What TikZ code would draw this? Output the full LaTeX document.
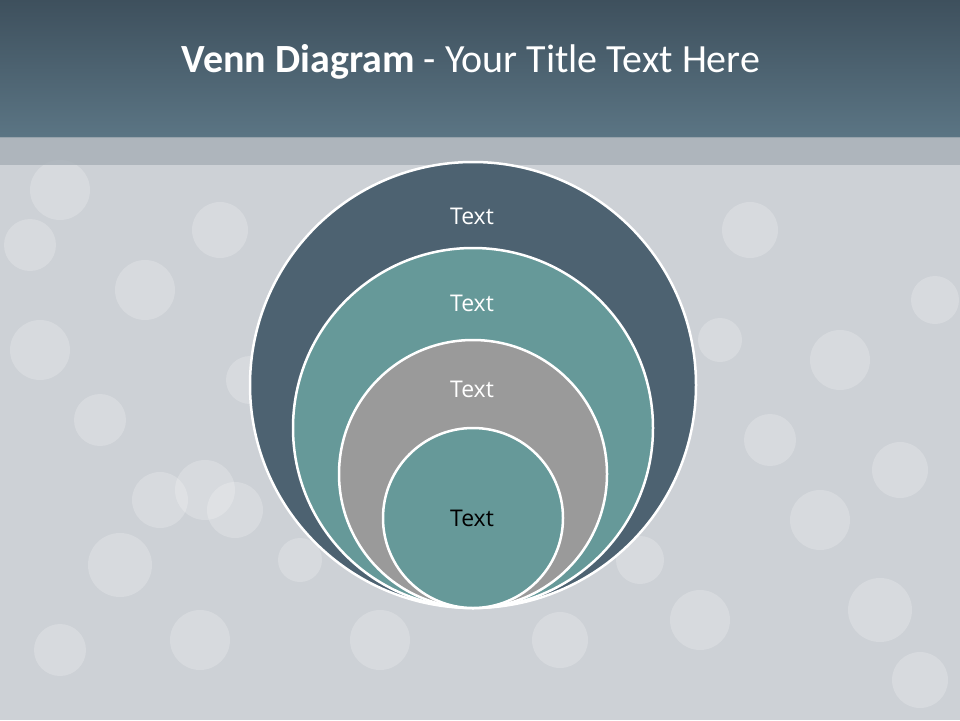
\documentclass[tikz,border=0pt]{standalone}
\usepackage{fontspec}
\setmainfont{Open Sans}
\newfontfamily\titlefont{Carlito}
\usepackage{tikz}
\usetikzlibrary{positioning}

\definecolor{barTop}{HTML}{3E505D}
\definecolor{barBot}{HTML}{5B7584}
\definecolor{stripGray}{HTML}{A7AFB6}
\definecolor{bgGray}{HTML}{CDD1D6}
\definecolor{slate}{HTML}{4D6271}
\definecolor{teal}{HTML}{669999}
\definecolor{midGray}{HTML}{9A9A9A}

\begin{document}
\begin{tikzpicture}[
  x=1pt, y=-1pt,
  ring/.style={circle, draw=white, line width=2.5pt, inner sep=0pt},
  lbl/.style={font=\fontsize{23}{23}\selectfont, text=white},
  bokeh/.style={fill=white, draw=none, opacity=0.2},
]
\useasboundingbox (0,0) rectangle (960,720);

% Background
\fill[bgGray] (0,0) rectangle (960,720);
\foreach \bx/\by/\br in {40/350/30, 120/565/32, 160/500/28, 205/490/30, 235/510/28,
  30/245/26, 145/290/30, 220/230/28, 60/190/30, 100/420/26, 250/380/24,
  750/230/28, 840/360/30, 900/470/28, 935/300/24, 820/520/30, 880/610/32,
  700/620/30, 560/640/28, 380/640/30, 200/640/30, 60/650/26, 770/440/26,
  920/680/28, 640/560/24, 300/560/22, 720/340/22}
  \fill[bokeh] (\bx,\by) circle (\br);

% Title bar
\shade[top color=barTop, bottom color=barBot] (0,0) rectangle (960,137);
\fill[stripGray, opacity=0.8] (0,137) rectangle (960,165);
\node[text=white, font=\titlefont\fontsize{40}{40}\selectfont] (title) at (471,62)
  {\textbf{Venn Diagram} - Your Title Text Here};

% Nested circles
\node[ring, fill=slate,   minimum size=446] (outer) at (473,385) {};
\node[ring, fill=teal,    minimum size=360] (second) at (473,428) {};
\node[ring, fill=midGray, minimum size=268] (third) at (473,474) {};
\node[ring, fill=teal,    minimum size=180] (inner) at (473,518) {};

% Labels
\node[lbl] (tOuter)  at (472,216) {Text};
\node[lbl] (tSecond) at (472,303) {Text};
\node[lbl] (tThird)  at (472,389) {Text};
\node[lbl, text=black] (tInner) at (472,518) {Text};

\end{tikzpicture}
\end{document}
